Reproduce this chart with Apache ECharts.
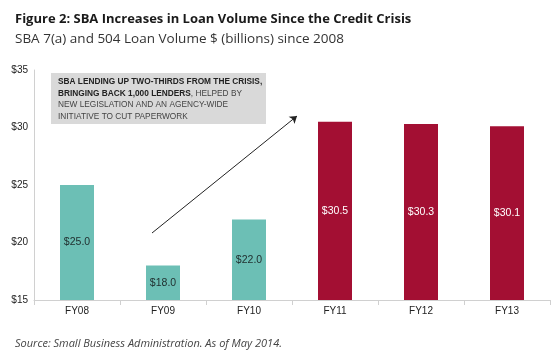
<!DOCTYPE html>
<html>
<head>
<meta charset="utf-8">
<script src="https://cdn.jsdelivr.net/npm/echarts@6/dist/echarts.min.js"></script>
<style>
  html, body { margin: 0; padding: 0; background: #fff; }
  #chart { width: 560px; height: 354px; }
</style>
</head>
<body>
<div id="chart"></div>
<script>
// values in $ billions
var categories = ['FY08', 'FY09', 'FY10', 'FY11', 'FY12', 'FY13']
var loanVolume = [25.0, 18.0, 22.0, 30.5, 30.3, 30.1]
var yTicks = [15, 20, 25, 30, 35]

var teal = '#6cbfb5'
var crimson = '#a30f33'
var narrow = '"Liberation Sans Narrow", "Arial Narrow", "Liberation Sans", sans-serif'

var chart = echarts.init(document.getElementById('chart'))

var barData = loanVolume.map(function (v, i) {
  var after = i >= 3
  return {
    value: v,
    itemStyle: { color: after ? crimson : teal },
    label: { color: after ? '#ffffff' : '#1f2d2d' }
  }
})

var option = {
  animation: false,
  textStyle: { fontFamily: narrow },
  title: [
    {
      text: 'Figure 2: SBA Increases in Loan Volume Since the Credit Crisis',
      left: 10,
      top: 8,
      textStyle: { fontFamily: '"Open Sans", sans-serif', fontSize: 13, fontWeight: 'bold', color: '#1a1a1a' }
    },
    {
      text: 'SBA 7(a) and 504 Loan Volume $ (billions) since 2008',
      left: 10,
      top: 27,
      textStyle: { fontFamily: '"Open Sans", sans-serif', fontSize: 13.5, fontWeight: 'normal', color: '#333' }
    },
    {
      text: 'Source: Small Business Administration. As of May 2014.',
      left: 10,
      top: 333,
      textStyle: { fontFamily: '"Open Sans", sans-serif', fontSize: 11, fontStyle: 'italic', fontWeight: 'normal', color: '#444' }
    }
  ],
  grid: { left: 34, right: 10, top: 70, bottom: 54, containLabel: false },
  xAxis: {
    type: 'category',
    data: categories,
    axisLine: { lineStyle: { color: '#d0d0d0' } },
    axisTick: { show: true, lineStyle: { color: '#d0d0d0' } },
    axisLabel: { color: '#222', fontSize: 10, fontFamily: narrow, margin: 6 }
  },
  yAxis: {
    type: 'value',
    min: 15,
    max: 35,
    interval: 5,
    axisLine: { show: true, lineStyle: { color: '#d0d0d0' } },
    axisTick: { show: false },
    splitLine: { show: false },
    axisLabel: {
      color: '#222',
      fontSize: 10,
      fontFamily: narrow,
      margin: 6,
      formatter: function (v) { return yTicks.indexOf(v) >= 0 ? '$' + v : '' }
    }
  },
  graphic: [
    {
      type: 'rect',
      shape: { x: 51, y: 73, width: 215, height: 51 },
      style: { fill: '#d9d9d9' },
      z: 10
    },
    {
      type: 'text',
      x: 58,
      y: 76,
      z: 11,
      style: {
        text: '{b|SBA LENDING UP TWO-THIRDS FROM THE CRISIS,}\n{b|BRINGING BACK 1,000 LENDERS}{n|, HELPED BY}\n{n|NEW LEGISLATION AND AN AGENCY-WIDE}\n{n|INITIATIVE TO CUT PAPERWORK}',
        rich: {
          b: { fontFamily: narrow, fontSize: 8.3, fontWeight: 'bold', fill: '#222', lineHeight: 11.5 },
          n: { fontFamily: narrow, fontSize: 8.3, fontWeight: 'normal', fill: '#444', lineHeight: 11.5 }
        }
      }
    }
  ],
  series: [
    {
      type: 'bar',
      data: barData,
      barWidth: 34,
      label: {
        show: true,
        position: 'inside',
        fontSize: 10.5,
        fontFamily: narrow,
        formatter: function (p) { return '$' + p.value.toFixed(1) }
      },
      markLine: {
        silent: true,
        symbol: ['none', 'arrow'],
        symbolSize: 7,
        lineStyle: { color: '#222', width: 1, type: 'solid' },
        label: { show: false },
        emphasis: { disabled: true },
        data: [[{ x: 152, y: 233 }, { x: 297, y: 116 }]]
      }
    }
  ]
}

chart.setOption(option)
</script>
</body>
</html>
